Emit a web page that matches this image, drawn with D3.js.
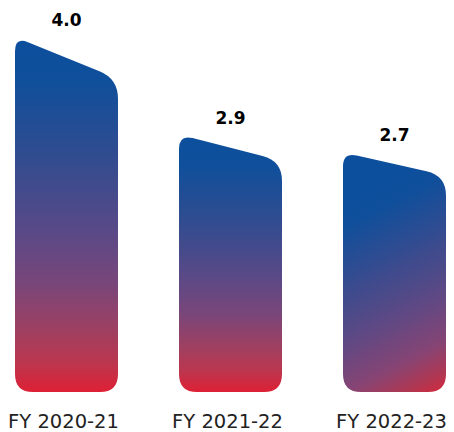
<!DOCTYPE html>
<html>
<head>
<meta charset="utf-8">
<script src="https://cdn.jsdelivr.net/npm/d3@7"></script>
<style>
  html, body { margin: 0; padding: 0; background: #fff; }
  svg { display: block; }
</style>
</head>
<body>
<svg id="chart" width="454" height="432"></svg>
<script>
// Fiscal years and the value for each year
const categories = ["FY 2020-21", "FY 2021-22", "FY 2022-23"];
const values = [4.0, 2.9, 2.7];
const valueLabels = ["4.0", "2.9", "2.7"];

const W = 454, H = 432;
const svg = d3.select("#chart");
const defs = svg.append("defs");

const x = d3.scaleBand()
  .domain(categories)
  .range([15, 446])
  .paddingInner(0.372)
  .paddingOuter(0);

const baseY = 392;
const y = d3.scaleLinear().domain([0, 4.0]).range([baseY, 37]);

// colour ramp from blue (top) to red (bottom)
const verticalStops = [
  [0, "#0c4f9c"], [0.12, "#0f4f9b"], [0.35, "#334c8f"], [0.55, "#5a4987"],
  [0.7, "#7a4679"], [0.82, "#9d4062"], [0.92, "#bc364e"], [1, "#de2035"]
];
const diagonalStops = [
  [0, "#0b4f9d"], [0.15, "#0f4f9b"], [0.4, "#3a4b8e"], [0.6, "#5d4985"],
  [0.8, "#864474"], [0.92, "#b03752"], [1, "#d6283c"]
];

// Bar outline: slanted top falling to the right, rounded corners
function barPath(x0, x1, yL, drop, yB) {
  const rL = 14, rR = 20, rB = 18;
  const w = x1 - x0;
  const slope = drop / w;
  const yR = yL + drop;
  const len = Math.sqrt(1 + slope * slope);
  const ux = 1 / len, uy = slope / len;
  const p = d3.path();
  p.moveTo(x0, yL + rL);
  p.quadraticCurveTo(x0, yL, x0 + rL * ux, yL + rL * uy);
  p.lineTo(x1 - rR * ux, yR - rR * uy);
  p.quadraticCurveTo(x1, yR, x1, yR + rR);
  p.lineTo(x1, yB - rB);
  p.quadraticCurveTo(x1, yB, x1 - rB, yB);
  p.lineTo(x0 + rB, yB);
  p.quadraticCurveTo(x0, yB, x0, yB - rB);
  p.closePath();
  return p.toString();
}

categories.forEach((c, i) => {
  const v = values[i];
  const x0 = x(c), x1 = x(c) + x.bandwidth();
  const yL = y(v);
  const h = baseY - yL;
  const drop = h * 0.16 - 15;

  const gid = "grad" + i;
  const g = defs.append("linearGradient")
    .attr("id", gid)
    .attr("gradientUnits", "userSpaceOnUse");
  let stops;
  if (i === 2) {
    g.attr("x1", x0).attr("y1", yL + 0.15 * h)
     .attr("x2", x1).attr("y2", baseY);
    stops = diagonalStops;
  } else {
    g.attr("x1", 0).attr("y1", yL)
     .attr("x2", 0).attr("y2", baseY);
    stops = verticalStops;
  }
  g.selectAll("stop").data(stops).join("stop")
    .attr("offset", d => d[0])
    .attr("stop-color", d => d[1]);

  svg.append("path")
    .attr("d", barPath(x0, x1, yL, drop, baseY))
    .attr("fill", `url(#${gid})`);

  svg.append("text")
    .attr("x", x0 + x.bandwidth() / 2)
    .attr("y", yL - 11)
    .attr("text-anchor", "middle")
    .attr("font-family", "'DejaVu Sans', sans-serif")
    .attr("font-weight", "bold")
    .attr("font-size", 17)
    .attr("fill", "#000")
    .text(valueLabels[i]);
});

// category axis labels
const axis = d3.axisBottom(x).tickSize(0).tickPadding(0);
const axisG = svg.append("g")
  .attr("transform", `translate(-3, ${428})`)
  .call(axis);
axisG.select(".domain").remove();
axisG.selectAll("text")
  .attr("dy", 0)
  .attr("y", 0)
  .attr("font-family", "'DejaVu Sans', sans-serif")
  .attr("font-size", 19.5)
  .attr("fill", "#222");
</script>
</body>
</html>
